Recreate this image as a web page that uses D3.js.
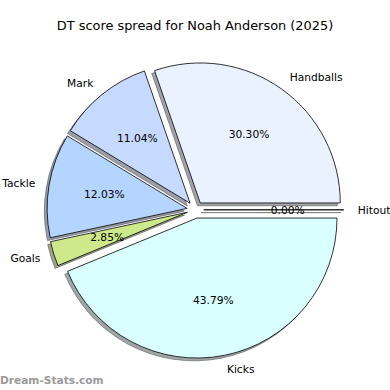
<!DOCTYPE html>
<html>
<head>
<meta charset="utf-8">
<script src="https://cdn.jsdelivr.net/npm/d3@7"></script>
<style>
  body { margin: 0; background: white; }
  text { font-family: "DejaVu Sans", sans-serif; }
</style>
</head>
<body>
<script>
// 1. DATA -------------------------------------------------------------------------

const categories = ["Hitout", "Handballs", "Mark", "Tackle", "Goals", "Kicks"],
      shares = [0.00, 30.30, 11.04, 12.03, 2.85, 43.79],
      wedgeColors = ["#ffffff", "#eaf1ff", "#c6d9ff", "#b4d5ff", "#cde98b", "#d9ffff"];

const titleText = "DT score spread for Noah Anderson (2025)",
      watermark = "Dream-Stats.com";

// 2. LAYOUT -------------------------------------------------------------------------

const width = 390,
      height = 390,
      cx = 195.4,
      cy = 209.8,
      radius = 140,
      explode = 0.06,     // fraction of radius
      shadowShift = 0.02, // matplotlib shadow offset
      labelDist = 1.1,
      pctDist = 0.6;

let svg = d3
  .select("body")
  .append("svg")
  .attr("width", width)
  .attr("height", height);

// matplotlib goes counter-clockwise from 3 o'clock; d3 goes clockwise from 12
let pie = d3.pie()
  .sort(null)
  .startAngle(Math.PI / 2)
  .endAngle(Math.PI / 2 - 2 * Math.PI);

let arc = d3.arc().innerRadius(0).outerRadius(radius);

let slices = pie(shares).map((d, i) => {
  let mid = (d.startAngle + d.endAngle) / 2;
  // d3 angle -> screen direction
  let ux = Math.sin(mid), uy = -Math.cos(mid);
  return {
    arc: d,
    name: categories[i],
    pct: shares[i],
    color: wedgeColors[i],
    ux: ux,
    uy: uy,
    ox: cx + ux * explode * radius,
    oy: cy + uy * explode * radius
  };
});

const shadowFill = (c) => {
  let rgb = d3.rgb(c);
  return d3.rgb(rgb.r * 0.3, rgb.g * 0.3, rgb.b * 0.3).toString();
};

// 3. DRAW -------------------------------------------------------------------------

let wedges = svg.append("g").attr("class", "wedges");

slices.forEach(s => {
  let path = arc(s.arc);
  // shadow under each wedge
  wedges.append("path")
    .attr("d", path)
    .attr("transform", `translate(${s.ox - shadowShift * radius},${s.oy + shadowShift * radius})`)
    .attr("fill", shadowFill(s.color))
    .attr("fill-opacity", 0.5)
    .attr("stroke", shadowFill(s.color))
    .attr("stroke-opacity", 0.5)
    .attr("stroke-width", 1);
  wedges.append("path")
    .attr("d", path)
    .attr("transform", `translate(${s.ox},${s.oy})`)
    .attr("fill", s.color)
    .attr("stroke", "black")
    .attr("stroke-width", 0.8)
    .attr("stroke-linejoin", "miter");
});

let labels = svg.append("g").attr("class", "labels");

slices.forEach(s => {
  labels.append("text")
    .attr("x", s.ox + s.ux * labelDist * radius)
    .attr("y", s.oy + s.uy * labelDist * radius)
    .attr("dy", "0.35em")
    .attr("text-anchor", s.ux > 0 ? "start" : "end")
    .attr("font-size", "10.7px")
    .attr("fill", "black")
    .text(s.name);

  labels.append("text")
    .attr("x", s.ox + s.ux * pctDist * radius)
    .attr("y", s.oy + s.uy * pctDist * radius)
    .attr("dy", "0.35em")
    .attr("text-anchor", "middle")
    .attr("font-size", "10.7px")
    .attr("fill", "black")
    .text(s.pct.toFixed(2) + "%");
});

svg.append("text")
  .attr("x", width / 2)
  .attr("y", 30)
  .attr("text-anchor", "middle")
  .attr("font-size", "12.9px")
  .attr("fill", "black")
  .text(titleText);

svg.append("text")
  .attr("x", 0)
  .attr("y", 384)
  .attr("font-size", "10.6px")
  .attr("font-weight", "bold")
  .attr("fill", "#9a9a9a")
  .text(watermark);
</script>
</body>
</html>
